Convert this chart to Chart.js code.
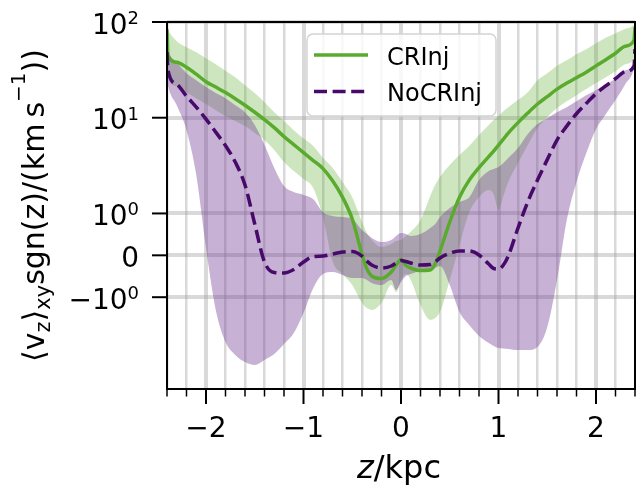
<!DOCTYPE html>
<html>
<head>
<meta charset="utf-8">
<script src="https://cdn.jsdelivr.net/npm/chart.js@4.4.1/dist/chart.umd.min.js"></script>
<style>
  html, body { margin: 0; padding: 0; background: #fff; }
  canvas { display: block; }
</style>
</head>
<body>
<canvas id="vzChart" width="636" height="485"></canvas>
<script>
// height above the midplane, shared by every series
var zKpc = [-2.4, -2.39, -2.3, -2.2, -2.1, -2.0, -1.9, -1.8, -1.7, -1.6, -1.5, -1.4, -1.3, -1.2, -1.1,
            -1.0, -0.9, -0.8, -0.7, -0.6, -0.5, -0.4, -0.35, -0.3, -0.2, -0.1, -0.05, 0, 0.05, 0.1,
            0.2, 0.3, 0.35, 0.4, 0.5, 0.6, 0.7, 0.8, 0.9, 0.95, 1.0, 1.05, 1.1, 1.2, 1.3,
            1.4, 1.5, 1.6, 1.7, 1.8, 1.9, 2.0, 2.1, 2.2, 2.3, 2.39, 2.4];

// CRInj run: median and spread of <v_z> sgn(z)
var crMedian = [84.1, 45.0, 38.0, 33.7, 28.5, 23.8, 20.9, 18.3, 15.8, 13.5, 11.4, 9.55, 7.88, 6.35, 5.24,
                4.32, 3.57, 2.94, 2.18, 1.48, 0.866, 0.031, -0.327, -0.494, -0.554, -0.399, -0.232, -0.100, -0.243, -0.303,
                -0.363, -0.351, -0.208, 0.103, 0.795, 1.48, 2.23, 3.01, 3.93, 4.48, 5.18, 5.98, 6.91, 8.89, 11.2,
                13.9, 16.6, 19.9, 23.0, 26.2, 29.9, 34.8, 40.4, 47.2, 55.9, 64.6, 88.3];
var crLow = [39.9, 25.9, 21.4, 18.5, 16.0, 13.9, 12.0, 10.4, 9.22, 8.17, 6.91, 5.84, 4.59, 3.44, 2.77,
             2.29, 1.84, 0.890, -0.160, -0.446, -0.709, -1.15, -1.30, -1.36, -1.15, -0.709, -0.876, -0.589, -0.446, -0.589,
             -1.21, -1.73, -1.65, -1.43, -0.589, 0.246, 1.03, 1.48, 1.76, 1.59, 1.085, 1.52, 2.13, 3.36, 5.18,
             7.79, 10.1, 12.6, 14.9, 17.2, 19.9, 23.0, 26.5, 30.6, 36.3, 41.9, 50.8];
var crHigh = [86.1, 82.1, 63.0, 54.6, 48.4, 41.9, 36.3, 31.0, 26.5, 21.9, 18.1, 14.5, 11.4, 9.22, 7.42,
              6.05, 5.05, 3.79, 2.98, 2.13, 1.48, 0.795, 0.532, 0.365, 0.198, 0.270, 0.341, 0.365, 0.461, 0.561,
              0.842, 1.52, 1.98, 2.40, 3.20, 4.07, 5.05, 6.58, 8.37, 9.44, 10.4, 11.7, 12.9, 15.3, 18.5,
              24.7, 29.2, 35.0, 39.9, 46.1, 52.0, 60.1, 68.6, 76.4, 85.1, 94.8, 102];

// NoCRInj run
var noCrMedian = [48.4, 31.4, 22.4, 16.8, 12.9, 9.67, 7.07, 5.11, 3.44, 1.98, 0.747, -0.160, -0.411, -0.422, -0.339,
                  -0.160, -0.029, -0.017, 0.031, 0.079, 0.091, -0.017, -0.136, -0.232, -0.303, -0.255, -0.184, -0.124, -0.148, -0.184,
                  -0.232, -0.220, -0.160, -0.064, 0.048, 0.103, 0.103, 0.007, -0.208, -0.315, -0.327, -0.232, -0.017, 0.652, 1.32,
                  2.23, 3.65, 5.84, 8.17, 11.0, 14.1, 17.8, 21.5, 25.6, 30.3, 34.6, 52.0];
var noCrLow = [25.9, 21.9, 13.5, 7.42, 2.52, 0.174, -1.36, -2.94, -4.01, -4.75, -5.10, -4.52, -3.92, -3.08, -2.36,
               -1.46, -0.780, -0.446, -0.399, -0.470, -0.542, -0.542, -0.589, -0.661, -0.709, -0.589, -0.828, -0.637, -0.494, -0.446,
               -0.375, -0.351, -0.303, -0.255, -0.709, -1.43, -1.95, -2.54, -3.01, -3.23, -3.39, -3.43, -3.47, -3.56, -3.56,
               -3.31, -2.05, -0.589, 0.842, 2.13, 4.27, 7.60, 10.9, 15.3, 22.4, 32.9, 38.0];
var noCrHigh = [57.3, 50.8, 38.0, 29.2, 24.7, 20.9, 18.1, 16.0, 13.5, 11.4, 8.37, 5.18, 2.98, 1.93, 1.67,
                1.56, 1.41, 1.03, 0.938, 0.914, 0.866, 0.604, 0.508, 0.413, 0.317, 0.365, 0.461, 0.532, 0.508, 0.461,
                0.508, 0.652, 0.747, 0.914, 1.14, 1.32, 1.48, 2.23, 2.77, 2.91, 3.05, 3.36, 3.79, 4.82, 6.74,
                8.58, 9.90, 11.4, 12.9, 14.9, 17.2, 19.4, 22.4, 25.6, 31.4, 38.0, 56.0];

var seriesNames = ['CRInj', 'NoCRInj'];

// axis ticks and their labels
var xMajorTicks = [-2, -1, 0, 1, 2];
var xTickLabels = ['\u22122', '\u22121', '0', '1', '2'];
var yTicks = [-1, 0, 1, 10, 100];
var yTickLabels = [['\u221210', '0'], ['0', ''], ['10', '0'], ['10', '1'], ['10', '2']];

var GREEN = '#5aab2d';
var PURPLE = '#470a6b';
var GREEN_BAND = 'rgba(90,171,45,0.3)';
var PURPLE_BAND = 'rgba(114,61,147,0.4)';
var FONT = '"DejaVu Sans", "Liberation Sans", sans-serif';

// symmetric log: linear between -1 and 1, log10 outside
var LINSCALE = 0.4375;
function symlog(v) {
    var a = Math.abs(v);
    if (a <= 1) return v * LINSCALE;
    return Math.sign(v) * (LINSCALE + Math.log10(a));
}
function symexp(t) {
    var a = Math.abs(t);
    if (a <= LINSCALE) return t / LINSCALE;
    return Math.sign(t) * Math.pow(10, a - LINSCALE);
}

class SymlogScale extends Chart.LinearScale {
    buildTicks() {
        return yTicks.map(function (v) { return { value: v }; });
    }
    configure() {
        super.configure();
        this._tStart = symlog(this.min);
        this._tRange = symlog(this.max) - this._tStart;
    }
    getPixelForValue(value) {
        if (value === null || value === undefined) return NaN;
        return this.getPixelForDecimal((symlog(value) - this._tStart) / this._tRange);
    }
    getValueForPixel(pixel) {
        return symexp(this._tStart + this.getDecimalForPixel(pixel) * this._tRange);
    }
}
SymlogScale.id = 'symlog';
SymlogScale.defaults = Chart.LinearScale.defaults;
Chart.register(SymlogScale);

function points(ys) {
    return zKpc.map(function (z, i) { return { x: z, y: ys[i] }; });
}

function isWhole(v) {
    return Math.abs(v - Math.round(v)) < 1e-6;
}

// draws a run of text pieces (for sub/superscripts)
function drawPieces(ctx, pieces, x, y, align) {
    var total = 0;
    pieces.forEach(function (p) {
        ctx.font = (p.italic ? 'italic ' : '') + p.size + 'px ' + FONT;
        p.w = ctx.measureText(p.t).width;
        total += p.w;
    });
    var cx = x;
    if (align === 'center') cx = x - total / 2;
    if (align === 'right') cx = x - total;
    pieces.forEach(function (p) {
        ctx.font = (p.italic ? 'italic ' : '') + p.size + 'px ' + FONT;
        ctx.fillText(p.t, cx, y + (p.dy || 0));
        cx += p.w;
    });
    return total;
}

var decor = {
    id: 'decor',
    afterDatasetsDraw: function (chart) {
        var ctx = chart.ctx, a = chart.chartArea;
        var xs = chart.scales.x, ys = chart.scales.y;
        ctx.save();
        ctx.strokeStyle = '#000';
        ctx.lineCap = 'butt';
        xs.ticks.forEach(function (t) {
            var major = isWhole(t.value);
            var px = xs.getPixelForValue(t.value);
            ctx.lineWidth = major ? 2 : 1.5;
            ctx.beginPath();
            ctx.moveTo(px, a.bottom);
            ctx.lineTo(px, a.bottom + (major ? 15 : 7.5));
            ctx.stroke();
        });
        ys.ticks.forEach(function (t) {
            var py = ys.getPixelForValue(t.value);
            ctx.lineWidth = 2;
            ctx.beginPath();
            ctx.moveTo(a.left - 15, py);
            ctx.lineTo(a.left, py);
            ctx.stroke();
        });
        ctx.lineWidth = 2;
        ctx.strokeRect(a.left, a.top, a.right - a.left, a.bottom - a.top);
        ctx.restore();
    },
    afterDraw: function (chart) {
        var ctx = chart.ctx, a = chart.chartArea;
        var xs = chart.scales.x, ys = chart.scales.y;
        ctx.save();
        ctx.fillStyle = '#000';
        ctx.textBaseline = 'alphabetic';

        // tick labels
        xMajorTicks.forEach(function (v, i) {
            drawPieces(ctx, [{ t: xTickLabels[i], size: 28 }], xs.getPixelForValue(v), 437, 'center');
        });
        yTicks.forEach(function (v, i) {
            var py = ys.getPixelForValue(v);
            var lab = yTickLabels[i];
            var pieces = [{ t: lab[0], size: 28 }];
            if (lab[1]) pieces.push({ t: lab[1], size: 18, dy: -9.5 });
            drawPieces(ctx, pieces, 139, py + 11.5, 'right');
        });

        // axis titles
        drawPieces(ctx, [{ t: 'z', size: 32, italic: true }, { t: '/kpc', size: 32 }],
                   (a.left + a.right) / 2 - 2, 478, 'center');
        ctx.save();
        ctx.translate(44, (a.top + a.bottom) / 2);
        ctx.rotate(-Math.PI / 2);
        drawPieces(ctx, [
            { t: '\u27e8v', size: 30 },
            { t: 'z', size: 21, dy: 6 },
            { t: '\u27e9', size: 30 },
            { t: 'xy', size: 21, dy: 6 },
            { t: 'sgn(z)/(km\u2009s', size: 30 },
            { t: '\u22121', size: 20, dy: -19 },
            { t: '))', size: 30 }
        ], 0, 0, 'center');
        ctx.restore();

        // legend
        var bx = 307, by = 34, bw = 189, bh = 82;
        ctx.beginPath();
        ctx.roundRect(bx, by, bw, bh, 6);
        ctx.fillStyle = 'rgba(255,255,255,0.8)';
        ctx.fill();
        ctx.strokeStyle = '#d4d4d4';
        ctx.lineWidth = 1.5;
        ctx.stroke();
        var medians = [chart.data.datasets[4], chart.data.datasets[5]];
        var rows = [55, 91.5];
        medians.forEach(function (ds, i) {
            ctx.strokeStyle = ds.borderColor;
            ctx.lineWidth = ds.borderWidth;
            ctx.setLineDash(ds.borderDash || []);
            ctx.beginPath();
            ctx.moveTo(314, rows[i]);
            ctx.lineTo(368, rows[i]);
            ctx.stroke();
            ctx.setLineDash([]);
            ctx.fillStyle = '#000';
            drawPieces(ctx, [{ t: ds.label, size: 24 }], 387, rows[i] + 9.5, 'left');
        });
        ctx.restore();
    }
};

var lineBase = {
    pointRadius: 0,
    pointHoverRadius: 0,
    cubicInterpolationMode: 'monotone'
};

// band edges carry no stroke of their own, only the fill between them
var bandEdge = {
    borderWidth: 0,
    borderColor: 'rgba(0,0,0,0)'
};

new Chart(document.getElementById('vzChart'), {
    type: 'line',
    data: {
        datasets: [
            Object.assign({ label: 'crLow', data: points(crLow), fill: false, order: 3 }, bandEdge, lineBase),
            Object.assign({ label: 'crHigh', data: points(crHigh), fill: '-1',
                            backgroundColor: GREEN_BAND, order: 3 }, bandEdge, lineBase),
            Object.assign({ label: 'noCrLow', data: points(noCrLow), fill: false, order: 2 }, bandEdge, lineBase),
            Object.assign({ label: 'noCrHigh', data: points(noCrHigh), fill: '-1',
                            backgroundColor: PURPLE_BAND, order: 2 }, bandEdge, lineBase),
            Object.assign({ label: seriesNames[0], data: points(crMedian), borderColor: GREEN,
                            borderWidth: 3.5, fill: false, order: 1 }, lineBase),
            Object.assign({ label: seriesNames[1], data: points(noCrMedian), borderColor: PURPLE,
                            borderWidth: 3.5, borderDash: [13, 5.6], fill: false, order: 0 }, lineBase)
        ]
    },
    options: {
        responsive: false,
        animation: false,
        devicePixelRatio: 1,
        layout: { padding: { top: 22, right: 1, left: 0, bottom: 0 } },
        plugins: {
            legend: { display: false },
            tooltip: { enabled: false }
        },
        scales: {
            x: {
                type: 'linear',
                min: -2.4,
                max: 2.4,
                afterBuildTicks: function (scale) {
                    var t = [];
                    for (var k = -12; k <= 12; k++) t.push({ value: k / 5 });
                    scale.ticks = t;
                },
                afterFit: function (scale) { scale.height = 96; },
                ticks: { display: false },
                border: { display: false },
                grid: {
                    drawTicks: false,
                    color: 'rgba(160,160,160,0.4)',
                    lineWidth: function (c) { return c.tick && isWhole(c.tick.value) ? 4 : 2.5; }
                }
            },
            y: {
                type: 'symlog',
                min: -9.1,
                max: 100,
                afterFit: function (scale) { scale.width = 167; },
                ticks: { display: false, callback: function () { return ''; } },
                border: { display: false },
                grid: {
                    drawTicks: false,
                    color: 'rgba(160,160,160,0.4)',
                    lineWidth: 4
                }
            }
        }
    },
    plugins: [decor]
});
</script>
</body>
</html>
